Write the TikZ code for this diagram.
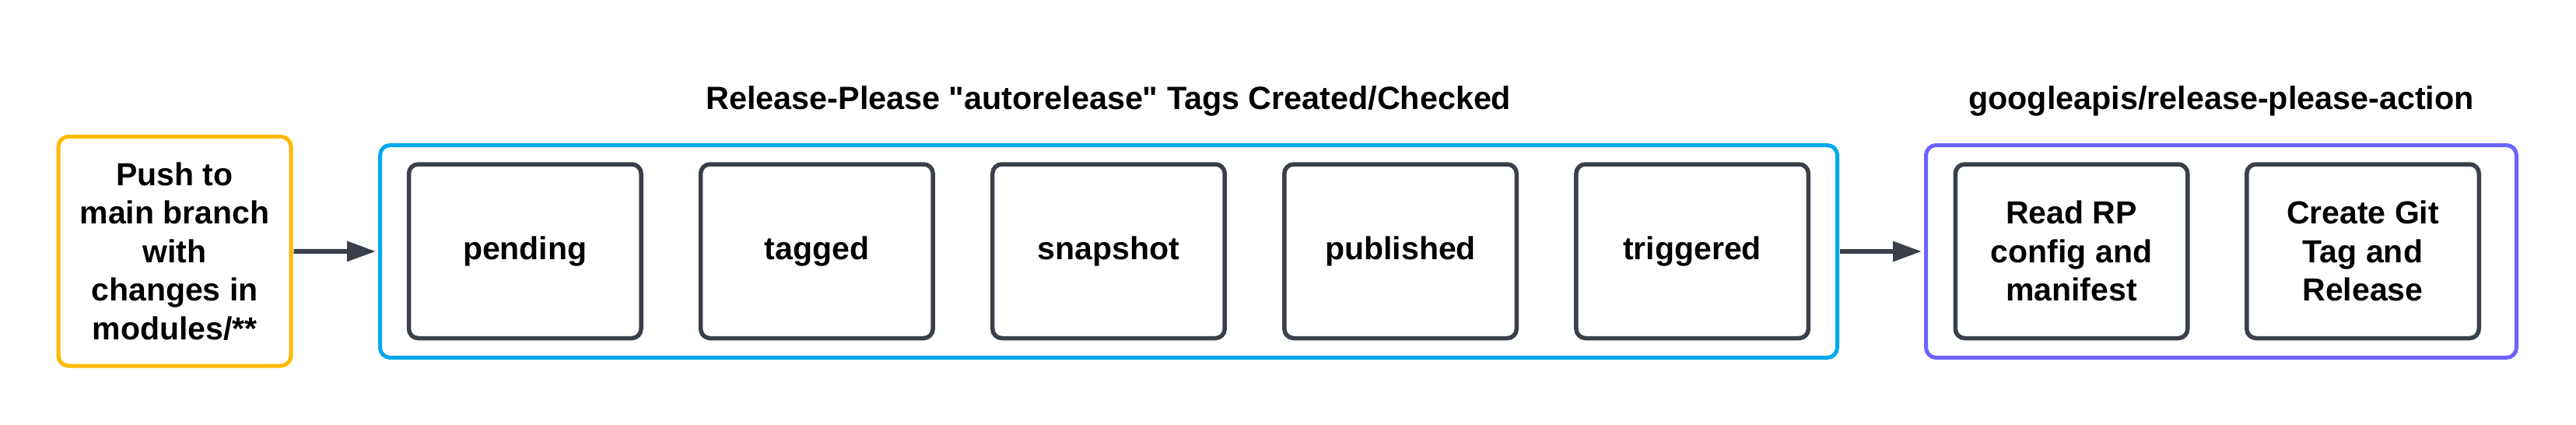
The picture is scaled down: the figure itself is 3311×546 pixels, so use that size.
\documentclass[tikz,border=0pt]{standalone}
\usepackage{fontspec}
\setmainfont{Liberation Sans}[Ligatures=TeXOff]
\usetikzlibrary{arrows.meta}
\definecolor{ygold}{HTML}{FFB900}
\definecolor{cblue}{HTML}{00A8EC}
\definecolor{cpurple}{HTML}{6B63FF}
\definecolor{dgray}{HTML}{3A4049}
\tikzset{
  lbl/.style={font=\bfseries\fontsize{41}{49.5}\selectfont, align=center, text=black},
  container/.style={draw, line width=5pt, rounded corners=13pt, minimum width=#1, minimum height=273pt, inner sep=0pt},
  stepbox/.style={lbl, draw=dgray, line width=5.5pt, rounded corners=12pt, minimum width=298.5pt, minimum height=223.5pt, inner sep=0pt, fill=white},
  startbox/.style={lbl, draw=ygold, line width=5pt, rounded corners=13pt, minimum width=299pt, minimum height=294.5pt, inner sep=0pt},
  flow/.style={draw=dgray, line width=6pt, -{Triangle[length=37pt,width=25pt]}},
  ttl/.style={font=\bfseries\fontsize{41.3}{49.5}\selectfont, text=black, anchor=base, inner sep=0pt}
}
\begin{document}
\begin{tikzpicture}[x=1pt,y=-1pt]
\useasboundingbox (0,0) rectangle (3311,546);
% start box
\node[startbox] (push) at (224.5,322.75) {Push to\\main branch\\with\\changes in\\modules/**};
% containers
\node[container=1873pt, draw=cblue] (tags) at (1425,323) {};
\node[container=759pt, draw=cpurple] (action) at (2855,323) {};
% titles
\node[ttl] (ttltags) at (1425,140) {Release-Please \char34 autorelease\char34\ Tags Created/Checked};
\node[ttl] (ttlaction) at (2855,140) {googleapis/release-please-action};
% steps
\node[stepbox] (pending) at (674.75,322.75) {pending};
\node[stepbox] (tagged) at (1049.85,322.75) {tagged};
\node[stepbox] (snapshot) at (1424.95,322.75) {snapshot};
\node[stepbox] (published) at (1800.05,322.75) {published};
\node[stepbox] (triggered) at (2175.15,322.75) {triggered};
\node[stepbox] (readrp) at (2662.5,322.75) {Read RP\\config and\\manifest};
\node[stepbox] (create) at (3037,322.75) {Create Git\\Tag and\\Release};
% connectors
\draw[flow, shorten <=1pt, shorten >=3pt] (push.east) -- (tags.west);
\draw[flow, shorten <=1pt, shorten >=3pt] (tags.east) -- (action.west);
\end{tikzpicture}
\end{document}
